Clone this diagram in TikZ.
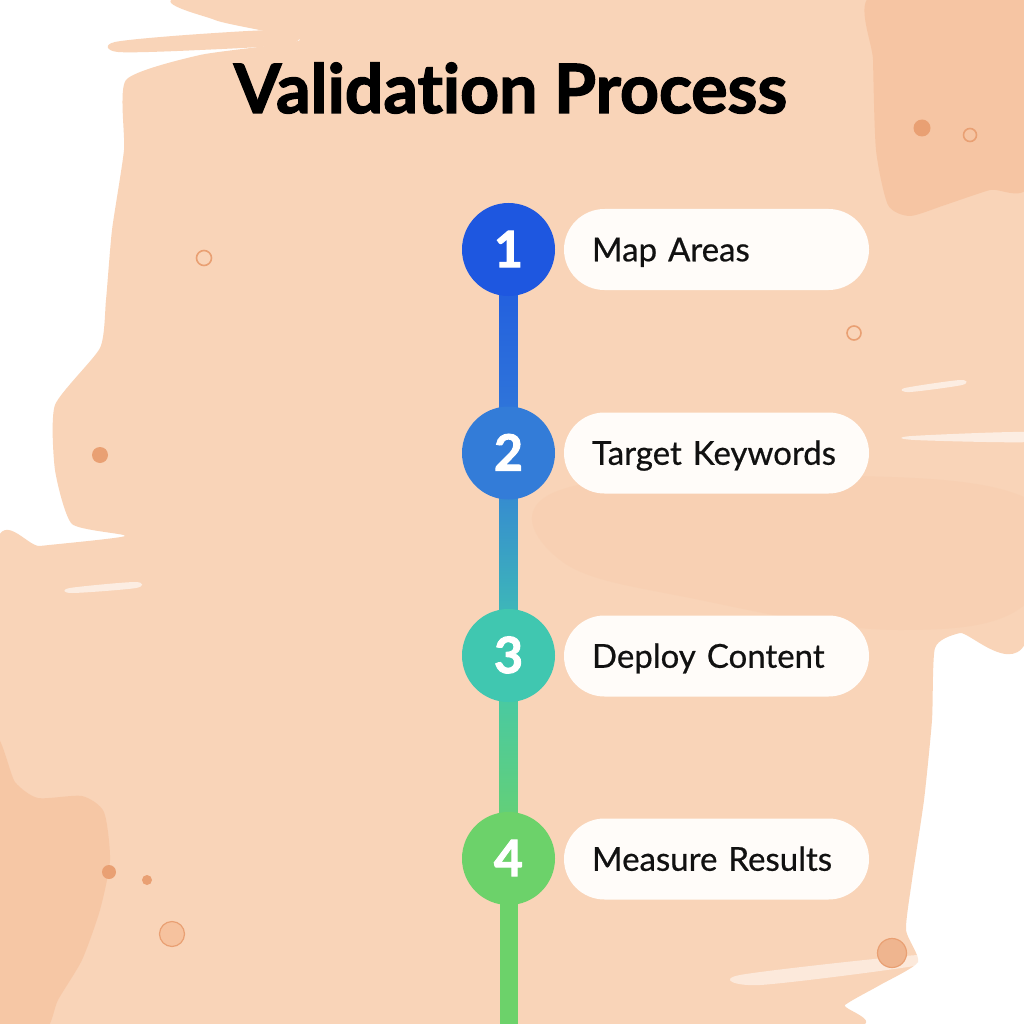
\documentclass[tikz,border=0pt]{standalone}
\usepackage{fontspec}
\setmainfont{Lato}
\newfontfamily\titlefont[FakeBold=2, Ligatures={NoCommon,NoRequired,NoContextual}]{Lato}
\newfontfamily\labelfont[FakeBold=0.6, WordSpace=0.6, Ligatures={NoCommon,NoRequired,NoContextual}]{Lato}
\usetikzlibrary{calc}
\definecolor{peach}{HTML}{F9D4B8}
\definecolor{peachlight}{HTML}{FBE0CC}
\definecolor{peachdark}{HTML}{F6C29E}
\definecolor{dotc}{HTML}{E9A073}
\definecolor{pillwhite}{HTML}{FFFCF9}
\definecolor{ink}{HTML}{111111}
\definecolor{cA}{HTML}{1E57E0}
\definecolor{cB}{HTML}{337CD8}
\definecolor{cC}{HTML}{40C7B0}
\definecolor{cD}{HTML}{6CD26A}
\tikzset{
  stepdot/.style={circle, minimum size=93pt, inner sep=0pt, text=white,
    font=\titlefont\bfseries\fontsize{50}{50}\selectfont, text height=35pt, text depth=0pt},
  pillbox/.style={rounded corners=40.5pt, minimum width=305pt, minimum height=81pt,
    fill=pillwhite, text=ink, inner xsep=28pt, inner ysep=0pt, text width=249pt, align=left,
    font=\labelfont\fontsize{33}{33}\selectfont, text height=23.5pt, text depth=0pt},
  fdot/.style={fill=dotc},
  rdot/.style={draw=dotc, line width=1.6pt},
}
\begin{document}
\begin{tikzpicture}[x=1pt,y=-1pt]
\useasboundingbox[fill=white] (0,0) rectangle (1024,1024);
% watercolor background
\fill[peach] plot[smooth cycle, tension=0.35] coordinates {
 (205,-5) (1030,-5) (1030,625) (960,633) (935,648) (932,720) (924,800) (912,880)
 (906,930) (918,962) (880,985) (845,1005) (825,1030) (-5,1030) (-5,552)
 (40,546) (125,536) (72,524) (55,470) (55,405) (100,348) (106,300) (112,230)
 (124,150) (126,80) (200,55) (300,40) (215,20)};
\fill[peach] plot[smooth cycle, tension=0.5] coordinates {(115,42) (200,34) (292,30) (290,44) (200,50) (118,52)};
\fill[peachdark, opacity=0.8] plot[smooth cycle, tension=0.4] coordinates {
 (872,-5) (873,60) (876,150) (888,205) (910,216) (945,205) (990,190) (1030,182) (1030,-5)};
\fill[peachdark, opacity=0.7] plot[smooth cycle, tension=0.4] coordinates {
 (-5,745) (15,782) (38,798) (82,796) (104,812) (110,860) (100,910) (82,960)
 (58,1000) (45,1030) (-5,1030)};
\fill[peachdark, opacity=0.18] plot[smooth cycle, tension=0.7] coordinates {
 (560,490) (800,475) (1030,500) (1030,600) (900,630) (700,600) (560,560)};
% white streaks
\fill[white, opacity=0.6] plot[smooth cycle, tension=0.5] coordinates {(905,388) (960,380) (962,385) (910,392)};
\fill[white, opacity=0.6] plot[smooth cycle, tension=0.5] coordinates {(912,436) (1030,432) (1030,442) (915,440)};
\fill[white, opacity=0.6] plot[smooth cycle, tension=0.5] coordinates {(70,588) (135,582) (136,588) (72,593)};
\fill[white, opacity=0.5] plot[smooth cycle, tension=0.5] coordinates {(740,975) (918,955) (920,965) (760,985)};
% decorative dots
\fill[fdot] (922,128) circle (8.5);
\draw[rdot] (970,135) circle (6.5);
\draw[rdot] (204,258) circle (7.5);
\draw[rdot] (854,333) circle (7);
\fill[fdot] (100,455) circle (8);
\fill[fdot] (109,872) circle (7);
\fill[fdot] (147,880) circle (5);
\draw[rdot, fill=peachdark, line width=1.2pt] (172,934) circle (12.5);
\draw[rdot, fill=dotc!60!peach, line width=1.2pt] (892,953) circle (14.5);
% title
\node[anchor=base, font=\titlefont\bfseries\fontsize{68}{68}\selectfont, text=black, inner sep=0pt]
  (title) at (510.5,113) {Validation Process};
% timeline coordinates
\coordinate (k1) at (508.5,249.5);
\coordinate (k2) at (508.5,453);
\coordinate (k3) at (508.5,655.5);
\coordinate (k4) at (508.5,858.5);
\coordinate (kend) at (508.5,1030);
% connectors
\shade[top color=cA!95!cB, bottom color=cB] ($(k1)+(-9,0)$) rectangle ($(k2)+(9,0)$);
\shade[top color=cB, bottom color=cC] ($(k2)+(-9,0)$) rectangle ($(k3)+(9,0)$);
\shade[top color=cC, bottom color=cD] ($(k3)+(-9,0)$) rectangle ($(k4)+(9,0)$);
\fill[cD] ($(k4)+(-9,0)$) rectangle ($(kend)+(9,0)$);
% step circles
\node[stepdot, fill=cA] (c1) at (k1) {1};
\node[stepdot, fill=cB] (c2) at (k2) {2};
\node[stepdot, fill=cC] (c3) at (k3) {3};
\node[stepdot, fill=cD] (c4) at (k4) {4};
% pills
\node[pillbox] (p1) at (716.5,249.5) {Map Areas};
\node[pillbox] (p2) at (716.5,453) {Target Keywords};
\node[pillbox] (p3) at (716.5,656) {Deploy Content};
\node[pillbox] (p4) at (716.5,859) {Measure Results};
\end{tikzpicture}
\end{document}
